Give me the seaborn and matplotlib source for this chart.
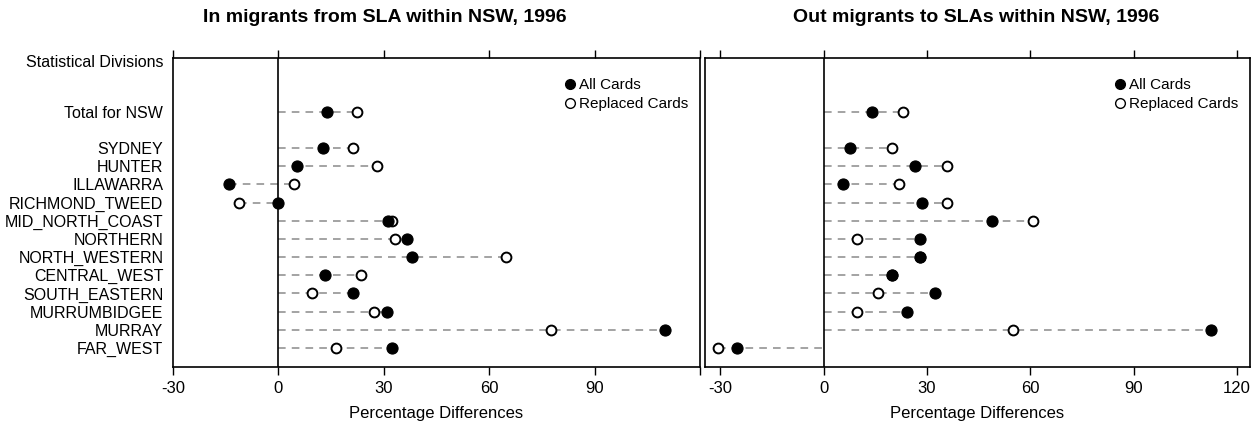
import matplotlib
matplotlib.use("Agg")
import matplotlib.pyplot as plt
import seaborn as sns
import pandas as pd
from matplotlib.lines import Line2D

divisions = ['Total for NSW', 'SYDNEY', 'HUNTER', 'ILLAWARRA', 'RICHMOND_TWEED',
             'MID_NORTH_COAST', 'NORTHERN', 'NORTH_WESTERN', 'CENTRAL_WEST',
             'SOUTH_EASTERN', 'MURRUMBIDGEE', 'MURRAY', 'FAR_WEST']

in_all = [13.8, 12.6, 5.3, -14.0, -0.2, 31.2, 36.7, 38.0, 13.4, 21.3, 31.0, 110.1, 32.2]
in_replaced = [22.3, 21.1, 28.2, 4.5, -11.1, 32.2, 33.2, 64.7, 23.4, 9.5, 27.1, 77.7, 16.4]

out_all = [14.2, 7.8, 26.5, 5.7, 28.6, 48.9, 27.9, 27.9, 19.8, 32.3, 24.1, 112.4, -25.0]
out_replaced = [23.1, 19.8, 35.9, 22.0, 35.9, 60.9, 9.6, 27.9, 19.8, 15.8, 9.6, 54.9, -30.5]

# row positions: one empty row between the total and the divisions
ypos = [13] + list(range(11, -1, -1))

df = pd.DataFrame({'Division': divisions, 'y': ypos,
                   'in_all': in_all, 'in_rep': in_replaced,
                   'out_all': out_all, 'out_rep': out_replaced})

sns.set_style("white")
plt.rcParams['font.family'] = ['Liberation Sans', 'DejaVu Sans']
plt.rcParams['text.color'] = 'black'
plt.rcParams['xtick.color'] = 'black'
plt.rcParams['ytick.color'] = 'black'
plt.rcParams['axes.labelcolor'] = 'black'

fig = plt.figure(figsize=(12.52, 4.26), dpi=100)
ax1 = fig.add_axes([0.1382, 0.1385, 0.4209, 0.7253])
ax2 = fig.add_axes([0.5631, 0.1385, 0.4353, 0.7253])


def draw_panel(ax, all_col, rep_col, xlim, ticks, ticklabels):
    lo = df[[all_col, rep_col]].min(axis=1).clip(upper=0)
    hi = df[[all_col, rep_col]].max(axis=1).clip(lower=0)
    ax.hlines(df['y'], lo, hi, colors='#8a8a8a', linestyles=(0, (5, 4)), linewidth=1.1, zorder=1)
    ax.axvline(0, color='black', linewidth=1.2, zorder=2)
    sns.scatterplot(data=df, x=rep_col, y='y', ax=ax, s=50, facecolor='white',
                    edgecolor='black', linewidth=1.4, zorder=3)
    sns.scatterplot(data=df, x=all_col, y='y', ax=ax, s=64, color='black',
                    edgecolor='black', linewidth=0.8, zorder=4)
    ax.set_xlim(*xlim)
    ax.set_ylim(-1.05, 15.95)
    ax.set_xticks(ticks)
    ax.set_xticklabels(ticklabels, fontsize=12)
    ax.tick_params(axis='x', direction='out', top=True, bottom=True,
                   length=6, width=1, color='black', pad=4)
    ax.set_xlabel('Percentage Differences', fontsize=12, labelpad=7)
    ax.set_ylabel('')
    for sp in ax.spines.values():
        sp.set_color('black')
        sp.set_linewidth(1.2)
    handles = [Line2D([], [], marker='o', linestyle='none', markerfacecolor='black',
                      markeredgecolor='black', markersize=7, label='All Cards'),
               Line2D([], [], marker='o', linestyle='none', markerfacecolor='white',
                      markeredgecolor='black', markersize=7, label='Replaced Cards')]
    ax.legend(handles=handles, loc='upper right', bbox_to_anchor=(0.995, 0.965),
              frameon=False, fontsize=11, handletextpad=0.1, labelspacing=0.35,
              handlelength=1.0, borderaxespad=0.2)


draw_panel(ax1, 'in_all', 'in_rep', (-30, 120), [-30, 0, 30, 60, 90, 120],
           ['-30', '0', '30', '60', '90', ''])
draw_panel(ax2, 'out_all', 'out_rep', (-34.4, 123.8), [-30, 0, 30, 60, 90, 120],
           ['-30', '0', '30', '60', '90', '120'])

ax1.set_yticks(list(df['y']) + [15.8])
ax1.set_yticklabels(divisions + ['Statistical Divisions'], fontsize=11.5)
ax1.tick_params(axis='y', length=0, pad=7)
ax2.set_yticks([])

fig.text(0.3075, 0.958, 'In migrants from SLA within NSW, 1996', ha='center', va='center',
         fontsize=14, fontweight='bold')
fig.text(0.7795, 0.958, 'Out migrants to SLAs within NSW, 1996', ha='center', va='center',
         fontsize=14, fontweight='bold')

fig.savefig('out.png', dpi=100)
